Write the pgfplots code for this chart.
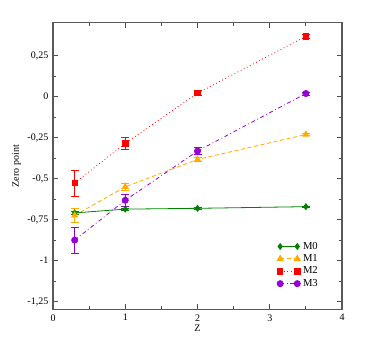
\documentclass[border=0pt]{standalone}
\usepackage{pgfplots}
\pgfplotsset{compat=1.18}
\usepackage{fontspec}
\setmainfont{Liberation Serif}
\definecolor{cM0}{RGB}{0,130,0}
\definecolor{cM1}{RGB}{255,170,0}
\definecolor{cM2}{RGB}{255,0,0}
\definecolor{cM3}{RGB}{150,0,215}
\begin{document}
\begin{tikzpicture}
\begin{axis}[
    scale only axis,
    width=216.75pt, height=215.25pt,
    at={(0,0)}, anchor=south west,
    xmin=0, xmax=4, ymin=-1.3, ymax=0.45,
    xtick={0,1,2,3,4}, minor x tick num=1,
    ytick={-1.25,-1,-0.75,-0.5,-0.25,0,0.25}, minor y tick num=1,
    tick align=inside, major tick length=4pt, minor tick length=2.5pt,
    axis line style={black!65, line width=0.8pt},
    every tick/.style={black!70, line width=0.6pt},
    tick label style={font=\fontsize{7.5}{8}\selectfont},
    /pgf/number format/assume math mode=true,
    /pgf/number format/use comma,
    xticklabel style={/pgf/number format/fixed},
    yticklabel style={/pgf/number format/fixed, /pgf/number format/precision=2},
    xlabel={Z}, ylabel={Zero point},
    label style={font=\fontsize{7.5}{8}\selectfont},
    xlabel style={yshift=4pt},
    ylabel style={yshift=-2pt},
    legend style={font=\fontsize{8}{8.5}\selectfont, draw=none, fill=none,
        at={(0.77,0.06)}, anchor=south west, row sep=-1.5pt,
        inner sep=1pt},
    legend cell align=left,
    legend image code/.code={\draw plot coordinates {(0cm,0cm) (0.45cm,0cm)};},
    error bars/error bar style={line width=0.5pt},
    error bars/error mark options={rotate=90, mark size=3pt, line width=0.5pt},
]
\addplot[cM0, line width=0.6pt, mark=diamond*, mark size=2.2pt, mark options={solid},
    error bars/.cd, y dir=both, y explicit]
    coordinates {(0.3,-0.71) +- (0,0.01) (1,-0.687) +- (0,0.005) (2,-0.682) +- (0,0.005) (3.5,-0.672) +- (0,0.005)};
\addplot[cM1, line width=0.6pt, dash pattern=on 3pt off 2pt, mark=triangle*, mark size=2.6pt, mark options={solid},
    error bars/.cd, y dir=both, y explicit, error bar style={solid}]
    coordinates {(0.3,-0.725) +- (0,0.04) (1,-0.551) +- (0,0.02) (2,-0.384) +- (0,0.01) (3.5,-0.232) +- (0,0.008)};
\addplot[cM2, line width=0.6pt, dotted, mark=square*, mark size=2pt, mark options={solid},
    error bars/.cd, y dir=both, y explicit, error bar style={solid}]
    coordinates {(0.3,-0.528) +- (0,0.08) (1,-0.286) +- (0,0.038) (2,0.02) +- (0,0.015) (3.5,0.367) +- (0,0.01)};
\addplot[cM3, line width=0.6pt, dash dot, mark=*, mark size=2.3pt, mark options={solid},
    error bars/.cd, y dir=both, y explicit, error bar style={solid}]
    coordinates {(0.3,-0.876) +- (0,0.078) (1,-0.633) +- (0,0.035) (2,-0.333) +- (0,0.02) (3.5,0.018) +- (0,0.01)};
\legend{M0, M1, M2, M3}
\end{axis}
\path (-39.75pt,-29.5pt) rectangle (234.75pt,232.25pt);
\end{tikzpicture}
\end{document}
